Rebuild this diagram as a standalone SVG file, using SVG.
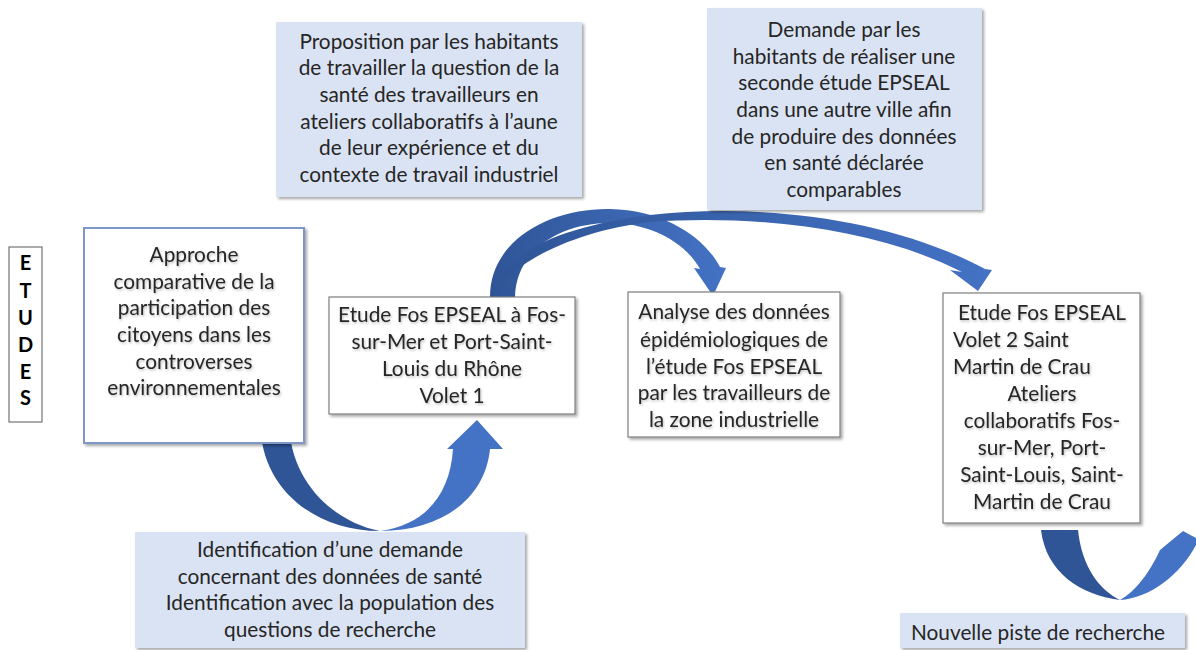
<svg xmlns="http://www.w3.org/2000/svg" width="1196" height="650" viewBox="0 0 1196 650">
<defs>
  <filter id="sh" x="-10%" y="-10%" width="130%" height="130%">
    <feDropShadow dx="2" dy="2" stdDeviation="1.5" flood-color="#000" flood-opacity="0.35"/>
  </filter>
  <filter id="tsh" x="-5%" y="-20%" width="110%" height="150%">
    <feDropShadow dx="1" dy="1.5" stdDeviation="1" flood-color="#000" flood-opacity="0.25"/>
  </filter>
  <linearGradient id="g1" x1="0" y1="0" x2="1" y2="0">
    <stop offset="0" stop-color="#2f5597"/>
    <stop offset="1" stop-color="#4472c4"/>
  </linearGradient>
</defs>
<style>
  text { font-family: Lato, "Liberation Sans", sans-serif; font-size: 20.8px; fill: #262626; }
  .c { text-anchor: middle; }
  .wb { fill: #ffffff; stroke: #7f7f7f; stroke-width: 1.2; }
  .bb { fill: #dae3f3; stroke: none; }
  .et { font-weight: bold; font-size: 20px; fill: #000; text-anchor: middle; }
</style>
<rect width="1196" height="650" fill="#ffffff"/>

<g id="connectors">
  <!-- U-turn arrow -->
  <path d="M260,420 C260,492 318,531 380,531 C334,522 289,482 289,420 Z" fill="#2f5597"/>
  <path d="M380,531 C440,531 485,500 490,449 L503,449 L477,420 L447,449 L453,449 C450,495 425,525 380,531 Z" fill="#4472c4"/>
  <!-- arc to Analyse -->
  <path d="M490,297 C490,240 550,208 610,209 C665,210 705,238 720,267 L726,268 L713,296 L694,268 L700,269 C685,242 650,223 610,223 C560,223 516,250 515,297 Z" fill="url(#g1)"/>
  <!-- long arc to Volet 2 -->
  <path d="M497,293 C500,250 570,225 650,215 C760,203 890,218 985,269 L992,270 L978,291 L950,270 L962,272 C880,230 760,214 650,222 C575,231 512,262 497,293 Z" fill="url(#g1)"/>
  <!-- loop arrow bottom right -->
  <path d="M1041,530 L1078,530 C1082,568 1100,590 1120,600 C1080,595 1046,572 1041,530 Z" fill="#2f5597"/>
  <path d="M1120,600 C1150,598 1180,575 1196,545 L1196,538 L1183,531 L1160,550 C1150,572 1135,592 1120,600 Z" fill="#4472c4"/>
</g>

<g id="etudes">
  <rect x="9" y="247" width="33" height="175" fill="#fff" stroke="#595959" stroke-width="1"/>
  <text class="et" x="25.5" y="270">E</text>
  <text class="et" x="25.5" y="298">T</text>
  <text class="et" x="25.5" y="325">U</text>
  <text class="et" x="25.5" y="352">D</text>
  <text class="et" x="25.5" y="379">E</text>
  <text class="et" x="25.5" y="405">S</text>
</g>

<g id="approche">
  <rect x="84" y="228" width="220" height="215" fill="#fff" stroke="#7f97c7" stroke-width="2" filter="url(#sh)"/>
  <g filter="url(#tsh)">
  <text class="c" x="194" y="262">Approche</text>
  <text class="c" x="194" y="289">comparative de la</text>
  <text class="c" x="194" y="315">participation des</text>
  <text class="c" x="194" y="342">citoyens dans les</text>
  <text class="c" x="194" y="369">controverses</text>
  <text class="c" x="194" y="395">environnementales</text>
  </g>
</g>

<g id="volet1">
  <rect class="wb" x="329" y="297" width="246" height="117" filter="url(#sh)"/>
  <g filter="url(#tsh)">
  <text class="c" x="452" y="322">Etude Fos EPSEAL à Fos-</text>
  <text class="c" x="452" y="349">sur-Mer et Port-Saint-</text>
  <text class="c" x="452" y="376">Louis du Rhône</text>
  <text class="c" x="452" y="403">Volet 1</text>
  </g>
</g>

<g id="analyse">
  <rect class="wb" x="628" y="292" width="212" height="145" filter="url(#sh)"/>
  <g filter="url(#tsh)">
  <text class="c" x="734" y="319">Analyse des données</text>
  <text class="c" x="734" y="347">épidémiologiques de</text>
  <text class="c" x="734" y="374">l’étude Fos EPSEAL</text>
  <text class="c" x="734" y="400">par les travailleurs de</text>
  <text class="c" x="734" y="427">la zone industrielle</text>
  </g>
</g>

<g id="volet2">
  <rect class="wb" x="943" y="293" width="197" height="230" filter="url(#sh)"/>
  <g filter="url(#tsh)">
  <text class="c" x="1042" y="320">Etude Fos EPSEAL</text>
  <text x="953" y="347">Volet 2 Saint</text>
  <text x="953" y="374">Martin de Crau</text>
  <text class="c" x="1042" y="401">Ateliers</text>
  <text class="c" x="1042" y="428">collaboratifs Fos-</text>
  <text class="c" x="1042" y="455">sur-Mer, Port-</text>
  <text class="c" x="1042" y="482">Saint-Louis, Saint-</text>
  <text class="c" x="1042" y="509">Martin de Crau</text>
  </g>
</g>

<g id="proposition">
  <rect class="bb" x="276" y="22" width="306" height="175" filter="url(#sh)"/>
  <text class="c" x="429" y="49">Proposition par les habitants</text>
  <text class="c" x="429" y="75">de travailler la question de la</text>
  <text class="c" x="429" y="102">santé des travailleurs en</text>
  <text class="c" x="429" y="129">ateliers collaboratifs à l’aune</text>
  <text class="c" x="429" y="155">de leur expérience et du</text>
  <text class="c" x="429" y="182">contexte de travail industriel</text>
</g>

<g id="demande">
  <rect class="bb" x="707" y="8" width="275" height="202" filter="url(#sh)"/>
  <text class="c" x="844" y="37">Demande par les</text>
  <text class="c" x="844" y="64">habitants de réaliser une</text>
  <text class="c" x="844" y="90">seconde étude EPSEAL</text>
  <text class="c" x="844" y="117">dans une autre ville afin</text>
  <text class="c" x="844" y="144">de produire des données</text>
  <text class="c" x="844" y="170">en santé déclarée</text>
  <text class="c" x="844" y="197">comparables</text>
</g>

<g id="identification">
  <rect class="bb" x="135" y="532" width="390" height="116" filter="url(#sh)"/>
  <text class="c" x="330" y="557">Identification d’une demande</text>
  <text class="c" x="330" y="584">concernant des données de santé</text>
  <text class="c" x="330" y="610">Identification avec la population des</text>
  <text class="c" x="330" y="637">questions de recherche</text>
</g>

<g id="nouvelle">
  <rect class="bb" x="900" y="613" width="285" height="35" filter="url(#sh)"/>
  <text x="911" y="640">Nouvelle piste de recherche</text>
</g>
</svg>
